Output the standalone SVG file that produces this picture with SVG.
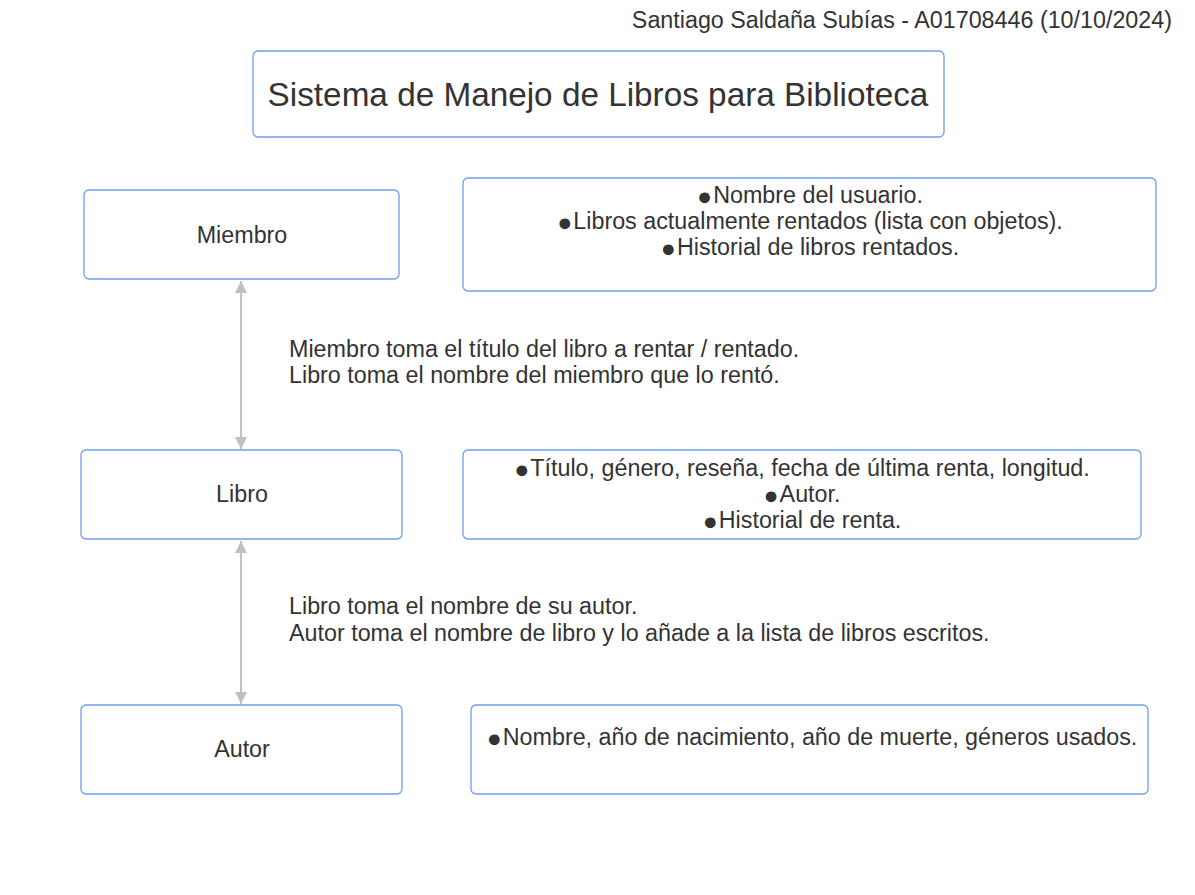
<svg xmlns="http://www.w3.org/2000/svg" width="1195" height="895" viewBox="0 0 1195 895">
<defs>
<style>
.box{fill:#ffffff;stroke:#6d9eeb;stroke-width:1.3}
.t{font-family:"Liberation Sans",Arial,sans-serif;fill:#333333;font-size:23.3px}
.c{text-anchor:middle}
.b{font-size:25px}
.conn{stroke:#c0c0c0;stroke-width:2;fill:none}
</style>
<marker id="ah" viewBox="0 0 10 10" refX="10" refY="5" markerWidth="12" markerHeight="12" markerUnits="userSpaceOnUse" orient="auto-start-reverse">
<path d="M0,0 L10,5 L0,10 z" fill="#c0c0c0"/>
</marker>
</defs>
<rect width="1195" height="895" fill="#ffffff"/>
<text class="t" x="1172" y="28" text-anchor="end">Santiago Saldaña Subías - A01708446 (10/10/2024)</text>
<g id="title">
<rect class="box" x="253" y="51" width="691" height="86" rx="5"/>
<text class="t c" x="598" y="106" style="font-size:33.3px">Sistema de Manejo de Libros para Biblioteca</text>
</g>
<g id="connectors">
<line class="conn" x1="241" y1="281" x2="241" y2="449" marker-start="url(#ah)" marker-end="url(#ah)"/>
<line class="conn" x1="241" y1="541" x2="241" y2="704" marker-start="url(#ah)" marker-end="url(#ah)"/>
<text class="t" x="289" y="357">Miembro toma el título del libro a rentar / rentado.</text>
<text class="t" x="289" y="383">Libro toma el nombre del miembro que lo rentó.</text>
<text class="t" x="289" y="614">Libro toma el nombre de su autor.</text>
<text class="t" x="289" y="641">Autor toma el nombre de libro y lo añade a la lista de libros escritos.</text>
</g>
<g id="miembro">
<rect class="box" x="84" y="190" width="315" height="89" rx="5"/>
<text class="t c" x="242" y="243">Miembro</text>
</g>
<g id="miembro-attrs">
<rect class="box" x="463" y="178" width="693" height="113" rx="5"/>
<text class="t c" x="810" y="203"><tspan class="b" dy="2">●</tspan><tspan dx="1" dy="-2">Nombre del usuario.</tspan></text>
<text class="t c" x="810" y="229"><tspan class="b" dy="2">●</tspan><tspan dx="1" dy="-2">Libros actualmente rentados (lista con objetos).</tspan></text>
<text class="t c" x="810" y="255"><tspan class="b" dy="2">●</tspan><tspan dx="1" dy="-2">Historial de libros rentados.</tspan></text>
</g>
<g id="libro">
<rect class="box" x="81" y="450" width="321" height="89" rx="5"/>
<text class="t c" x="242" y="502">Libro</text>
</g>
<g id="libro-attrs">
<rect class="box" x="463" y="450" width="678" height="89" rx="5"/>
<text class="t c" x="802" y="476"><tspan class="b" dy="2">●</tspan><tspan dx="1" dy="-2">Título, género, reseña, fecha de última renta, longitud.</tspan></text>
<text class="t c" x="802" y="502"><tspan class="b" dy="2">●</tspan><tspan dx="1" dy="-2">Autor.</tspan></text>
<text class="t c" x="802" y="528"><tspan class="b" dy="2">●</tspan><tspan dx="1" dy="-2">Historial de renta.</tspan></text>
</g>
<g id="autor">
<rect class="box" x="81" y="705" width="321" height="89" rx="5"/>
<text class="t c" x="242" y="757">Autor</text>
</g>
<g id="autor-attrs">
<rect class="box" x="471" y="705" width="677" height="89" rx="5"/>
<text class="t c" x="812" y="745"><tspan class="b" dy="2">●</tspan><tspan dx="1" dy="-2">Nombre, año de nacimiento, año de muerte, géneros usados.</tspan></text>
</g>
</svg>
